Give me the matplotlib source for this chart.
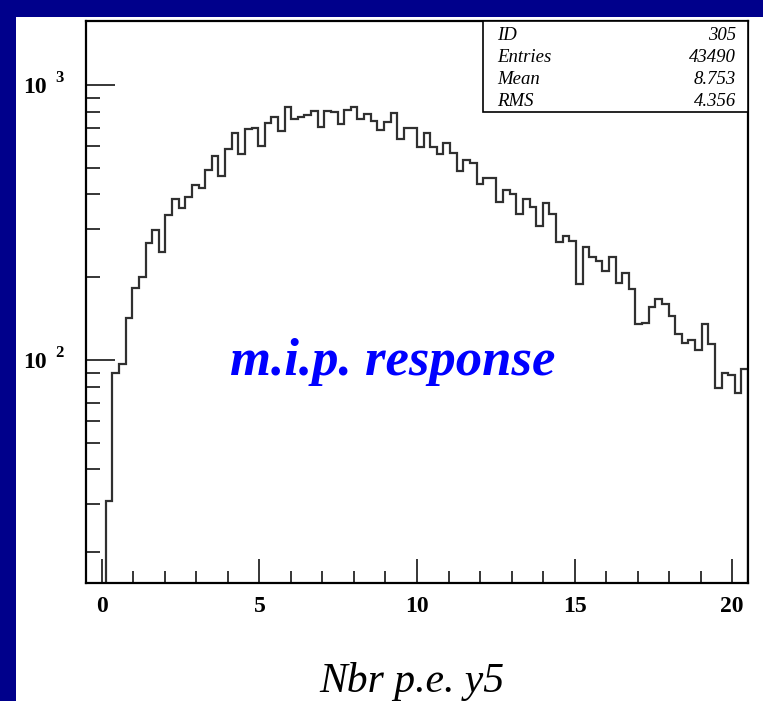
import matplotlib
matplotlib.use('Agg')
import matplotlib.pyplot as plt
import matplotlib.patches as mpatches
from matplotlib.ticker import LogLocator, NullFormatter
import numpy as np

# histogram 305: 100 bins on [-0.5, 20.5], the first three bins are empty
n_bins = 100
x_lo, x_hi = -0.5, 20.5
first_bin = 3
counts = [
    30.8, 89.8, 96.4, 141.8, 182, 200, 267, 297,
    248, 337, 384, 358, 393, 433, 421, 491, 552, 467,
    584, 667, 561, 690, 696, 602, 726, 767, 680, 834,
    750, 767, 776, 804, 706, 806, 797, 722, 811, 834,
    750, 782, 740, 686, 736, 789, 635, 696, 696, 593,
    667, 593, 561, 617, 565, 487, 534, 519, 437, 460,
    460, 376, 415, 400, 340, 384, 361, 306, 371, 339,
    269, 283, 272, 189, 258, 236, 229, 210, 236, 190,
    208, 181, 135, 136, 156, 166, 160, 144, 124, 115,
    118, 109, 135, 114, 79, 90, 88, 76, 93,
]

stat_names = ['ID', 'Entries', 'Mean', 'RMS']
stat_values = ['305', '43490', '8.753', '4.356']

x_major = [0, 5, 10, 15, 20]
x_minor = list(range(0, 21))
y_decades = [2, 3]

W, H = 763, 701
SERIF = 'Liberation Serif'
NAVY = '#00008b'


def fx(px):
    return px / W


def fy(py):
    return 1 - py / H


fig = plt.figure(figsize=(W / 100, H / 100), dpi=100, facecolor=NAVY)

# white page on the navy slide
page = mpatches.Rectangle((fx(16), 0), 1 - fx(16), fy(17), transform=fig.transFigure,
                          facecolor='white', edgecolor='none', zorder=-5)
fig.add_artist(page)

ax = fig.add_axes([fx(86), fy(583), fx(748) - fx(86), fy(21) - fy(583)])
ax.set_facecolor('white')

edges = np.linspace(x_lo, x_hi, n_bins + 1)[first_bin:]
ax.stairs(counts, edges, baseline=1, color='#303030', lw=1.6)

ax.set_yscale('log')
ax.set_xlim(x_lo, x_hi)
ax.set_ylim(15.45, 1710)

for s in ax.spines.values():
    s.set_linewidth(1.6)
    s.set_color('black')

ax.set_xticks(x_major)
ax.set_xticks(x_minor, minor=True)
ax.set_xticklabels([str(v) for v in x_major], fontfamily=SERIF, fontweight='bold', fontsize=17)
ax.set_yticks([10 ** e for e in y_decades])
ax.yaxis.set_minor_locator(LogLocator(base=10, subs=range(2, 10)))
ax.yaxis.set_minor_formatter(NullFormatter())
ax.tick_params(which='both', direction='in', top=False, right=False, labelleft=False,
               color='black', width=1.1)
ax.tick_params(axis='x', which='major', length=17, pad=9)
ax.tick_params(axis='x', which='minor', length=8.5)
ax.tick_params(axis='y', which='major', length=21)
ax.tick_params(axis='y', which='minor', length=10)

# "10 ^e" labels on the log axis
for e in y_decades:
    ax.annotate('10', xy=(0, 10 ** e), xycoords=ax.get_yaxis_transform(),
                xytext=(-39, -8), textcoords='offset pixels', ha='right', va='baseline',
                fontsize=17, fontweight='bold', family=SERIF)
    ax.annotate(str(e), xy=(0, 10 ** e), xycoords=ax.get_yaxis_transform(),
                xytext=(-31, 3), textcoords='offset pixels', ha='left', va='baseline',
                fontsize=12, fontweight='bold', family=SERIF)

ax.text(9.22, 88.2, 'm.i.p. response', color='#0000ff', fontsize=38, fontweight='bold',
        style='italic', family=SERIF, ha='center', va='baseline')

# statistics box in the top right corner
box = mpatches.Rectangle((fx(483), fy(112)), fx(748) - fx(483), fy(21) - fy(112),
                         transform=fig.transFigure, facecolor='white', edgecolor='black',
                         lw=1.2, zorder=5)
fig.add_artist(box)
for i, (name, val) in enumerate(zip(stat_names, stat_values)):
    y = 35 + 22 * i
    fig.text(fx(497), fy(y), name, ha='left', va='center', style='italic',
             family=SERIF, fontsize=13.5, zorder=6)
    fig.text(fx(736), fy(y), val, ha='right', va='center', style='italic',
             family=SERIF, fontsize=13.5, zorder=6)

fig.text(fx(412), fy(692), 'Nbr p.e. y5', ha='center', va='baseline', style='italic',
         family=SERIF, fontsize=30)

fig.savefig('out.png', dpi=100, facecolor=fig.get_facecolor())
